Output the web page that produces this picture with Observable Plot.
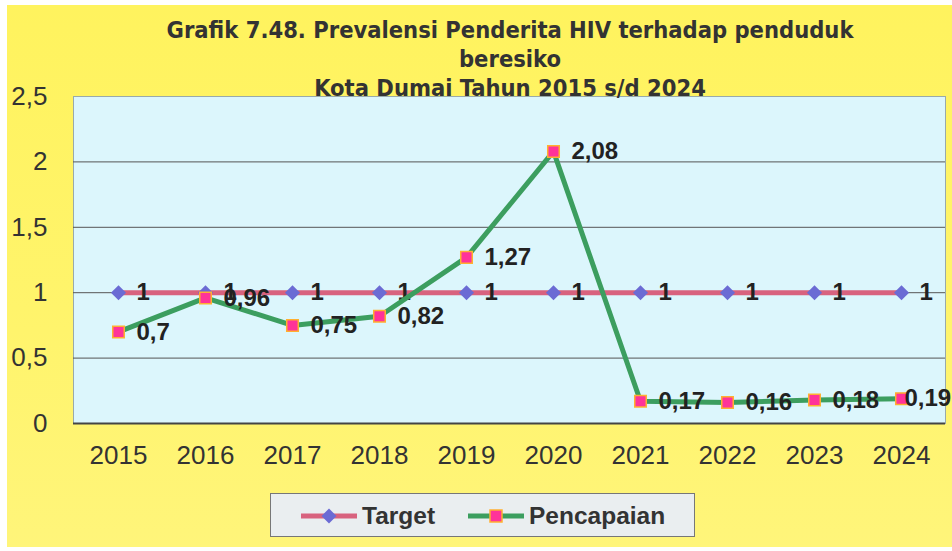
<!DOCTYPE html>
<html>
<head>
<meta charset="utf-8">
<script src="https://cdn.jsdelivr.net/npm/d3@7"></script>
<script src="https://cdn.jsdelivr.net/npm/@observablehq/plot@0.6"></script>
<style>
  html, body { margin: 0; padding: 0; background: #ffffff; }
  #page { position: relative; width: 952px; height: 551px; overflow: hidden; }
  #bg { position: absolute; left: 7px; top: 5px; width: 945px; height: 542px;
        background: linear-gradient(180deg, #fff35e 0%, #fff46c 60%, #fff57a 100%); }
  #title { position: absolute; left: 0; top: 16px; width: 1020px; text-align: center;
           font-family: "Liberation Sans Narrow", "Arial Narrow", "DejaVu Sans Condensed", sans-serif;
           font-weight: bold; font-size: 23.5px; line-height: 29px; color: #333; }
  #chart { position: absolute; left: 0; top: 0; }
  #legend { position: absolute; left: 270px; top: 493px; width: 425px; height: 44px;
            box-sizing: border-box; border: 1px solid #777; background: #eaeef0;
            font-family: "Liberation Sans", Arial, sans-serif; font-weight: bold; font-size: 24.5px; color: #333; }
  #legend .item { position: absolute; top: 0; height: 43px; display: flex; align-items: center; }
</style>
</head>
<body>
<div id="page">
  <div id="bg"></div>
  <div id="chart"></div>
  <div id="title">Grafik 7.48. Prevalensi Penderita HIV terhadap penduduk<br>beresiko<br>Kota Dumai Tahun 2015 s/d 2024</div>
  <div id="legend"></div>
</div>
<script>
const years = ["2015","2016","2017","2018","2019","2020","2021","2022","2023","2024"];
const target = [1, 1, 1, 1, 1, 1, 1, 1, 1, 1];
const pencapaian = [0.7, 0.96, 0.75, 0.82, 1.27, 2.08, 0.17, 0.16, 0.18, 0.19];
const yTicks = [0, 0.5, 1, 1.5, 2, 2.5];
const seriesNames = ["Target", "Pencapaian"];

const targetColor = "#d8627e";
const diamondColor = "#6b6bd4";
const greenColor = "#3c9e5f";
const squareFill = "#ff3399";
const squareStroke = "#ffb030";

const fmt = v => String(v).replace(".", ",");
const tData = years.map((y, i) => ({year: y, value: target[i]}));
const pData = years.map((y, i) => ({year: y, value: pencapaian[i]}));
const lastYear = years[years.length - 1];

const labelStyle = {x: "year", y: "value", text: d => fmt(d.value), textAnchor: "start",
  fontSize: 24, fontWeight: "bold", fill: "#222"};

const chart = Plot.plot({
  width: 952,
  height: 480,
  marginTop: 96,
  marginBottom: 57,
  marginLeft: 73,
  marginRight: 7,
  style: {background: "transparent", fontFamily: "'Liberation Sans', Arial, sans-serif", color: "#333"},
  x: {type: "point", domain: years, padding: 0.5, label: null},
  y: {domain: [0, 2.5], label: null},
  marks: [
    Plot.frame({fill: "#dcf6fc", stroke: "#9aa"}),
    Plot.ruleY([0.5, 1, 1.5, 2], {stroke: "#555", strokeWidth: 1}),
    Plot.ruleY([0], {stroke: "#444", strokeWidth: 2}),
    Plot.axisY({ticks: yTicks, tickSize: 0, tickPadding: 26, fontSize: 26, tickFormat: fmt, label: null}),
    Plot.axisX({tickSize: 0, tickPadding: 22, fontSize: 26, label: null}),
    Plot.line(tData, {x: "year", y: "value", stroke: targetColor, strokeWidth: 5}),
    Plot.dot(tData, {x: "year", y: "value", symbol: "diamond2", r: 6.8, fill: diamondColor, stroke: "none"}),
    Plot.text(tData, {...labelStyle, dx: 18}),
    Plot.line(pData, {x: "year", y: "value", stroke: greenColor, strokeWidth: 5}),
    Plot.dot(pData, {x: "year", y: "value", symbol: "square", r: 6.5, fill: squareFill, stroke: squareStroke, strokeWidth: 1.5}),
    Plot.text(pData.filter(d => d.year !== lastYear), {...labelStyle, dx: 18}),
    Plot.text(pData.filter(d => d.year === lastYear), {...labelStyle, dx: 3})
  ]
});
document.getElementById("chart").appendChild(chart);

// Legend
const legend = d3.select("#legend");
const items = [
  {name: seriesNames[0], left: 28, line: targetColor, sym: "diamond"},
  {name: seriesNames[1], left: 195, line: greenColor, sym: "square"}
];
for (const it of items) {
  const div = legend.append("div").attr("class", "item").style("left", it.left + "px");
  const svg = div.append("svg").attr("width", 60).attr("height", 20).style("margin-right", "3px");
  svg.append("line").attr("x1", 2).attr("x2", 58).attr("y1", 10).attr("y2", 10)
    .attr("stroke", it.line).attr("stroke-width", 5);
  if (it.sym === "diamond") {
    svg.append("path").attr("d", "M30,2.5L37.5,10L30,17.5L22.5,10Z").attr("fill", diamondColor);
  } else {
    svg.append("rect").attr("x", 24).attr("y", 4).attr("width", 12).attr("height", 12)
      .attr("fill", squareFill).attr("stroke", squareStroke).attr("stroke-width", 1.5);
  }
  div.append("span").text(it.name);
}
</script>
</body>
</html>
